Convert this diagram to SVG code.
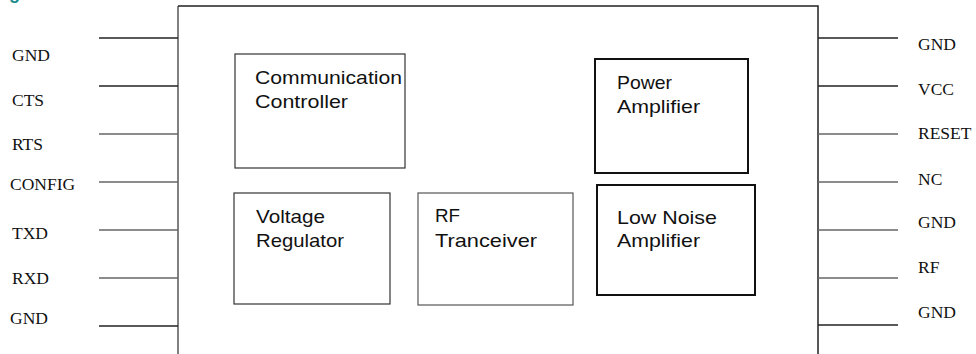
<svg xmlns="http://www.w3.org/2000/svg" width="976" height="354" viewBox="0 0 976 354">
<style>
.pin{font-family:"Liberation Serif","Times New Roman",serif;font-size:17.5px;fill:#111}
.lbl{font-family:"Liberation Sans",Arial,sans-serif;font-size:19px;fill:#111}
.thin{fill:#fff;stroke:#333;stroke-width:1.2}
.thick{fill:#fff;stroke:#111;stroke-width:2}
.wire{stroke:#222;stroke-width:1.3;fill:none}
.wireg{stroke:#666;stroke-width:1.5;fill:none}
</style>
<rect width="976" height="354" fill="#fff"/>
<text x="9" y="-1" font-family="Liberation Sans,Arial,sans-serif" font-weight="bold" font-size="18" fill="#1a8c8c">g</text>
<g id="chip">
<path d="M178,360 V6" stroke="#808080" stroke-width="2" fill="none"/>
<path d="M178,6 H818 V360" stroke="#222" stroke-width="1.5" fill="none"/>
</g>
<g id="connectors">
<line class="wire" x1="99" y1="38" x2="178" y2="38"/>
<line class="wire" x1="99" y1="86" x2="178" y2="86"/>
<line class="wireg" x1="99" y1="134" x2="178" y2="134"/>
<line class="wireg" x1="99" y1="182" x2="178" y2="182"/>
<line class="wireg" x1="99" y1="230" x2="178" y2="230"/>
<line class="wireg" x1="99" y1="278" x2="178" y2="278"/>
<line class="wire" x1="99" y1="326" x2="178" y2="326"/>
<line class="wire" x1="818" y1="38" x2="898" y2="38"/>
<line class="wire" x1="818" y1="86" x2="898" y2="86"/>
<line class="wireg" x1="818" y1="134" x2="898" y2="134"/>
<line class="wireg" x1="818" y1="182" x2="898" y2="182"/>
<line class="wireg" x1="818" y1="230" x2="898" y2="230"/>
<line class="wireg" x1="818" y1="278" x2="898" y2="278"/>
<line class="wire" x1="818" y1="325" x2="898" y2="325"/>
</g>
<g id="left-pins">
<text class="pin" x="12" y="61">GND</text>
<text class="pin" x="12" y="106">CTS</text>
<text class="pin" x="12" y="150">RTS</text>
<text class="pin" x="10" y="190">CONFIG</text>
<text class="pin" x="12" y="239">TXD</text>
<text class="pin" x="12" y="284">RXD</text>
<text class="pin" x="10" y="324">GND</text>
</g>
<g id="right-pins">
<text class="pin" x="918" y="50">GND</text>
<text class="pin" x="918" y="95">VCC</text>
<text class="pin" x="918" y="139">RESET</text>
<text class="pin" x="918" y="185">NC</text>
<text class="pin" x="918" y="228">GND</text>
<text class="pin" x="918" y="273">RF</text>
<text class="pin" x="918" y="318">GND</text>
</g>
<g id="comm-controller">
<rect class="thin" x="235" y="54" width="170" height="114"/>
<text class="lbl" x="255" y="84" textLength="147" lengthAdjust="spacingAndGlyphs">Communication</text>
<text class="lbl" x="255" y="108" textLength="93" lengthAdjust="spacingAndGlyphs">Controller</text>
</g>
<g id="power-amplifier">
<rect class="thick" x="595" y="59" width="153" height="114"/>
<text class="lbl" x="617" y="89" textLength="55" lengthAdjust="spacingAndGlyphs">Power</text>
<text class="lbl" x="617" y="113" textLength="83" lengthAdjust="spacingAndGlyphs">Amplifier</text>
</g>
<g id="voltage-regulator">
<rect class="thin" x="234" y="193" width="156" height="111"/>
<text class="lbl" x="256" y="223" textLength="69" lengthAdjust="spacingAndGlyphs">Voltage</text>
<text class="lbl" x="256" y="247" textLength="88" lengthAdjust="spacingAndGlyphs">Regulator</text>
</g>
<g id="rf-tranceiver">
<rect class="thin" x="418" y="193" width="155" height="112" style="stroke:#555"/>
<text class="lbl" x="435" y="222" textLength="25" lengthAdjust="spacingAndGlyphs">RF</text>
<text class="lbl" x="435" y="247" textLength="102" lengthAdjust="spacingAndGlyphs">Tranceiver</text>
</g>
<g id="low-noise-amplifier">
<rect class="thick" x="597" y="185" width="158" height="110"/>
<text class="lbl" x="617" y="224" textLength="100" lengthAdjust="spacingAndGlyphs">Low Noise</text>
<text class="lbl" x="617" y="247" textLength="83" lengthAdjust="spacingAndGlyphs">Amplifier</text>
</g>
</svg>
